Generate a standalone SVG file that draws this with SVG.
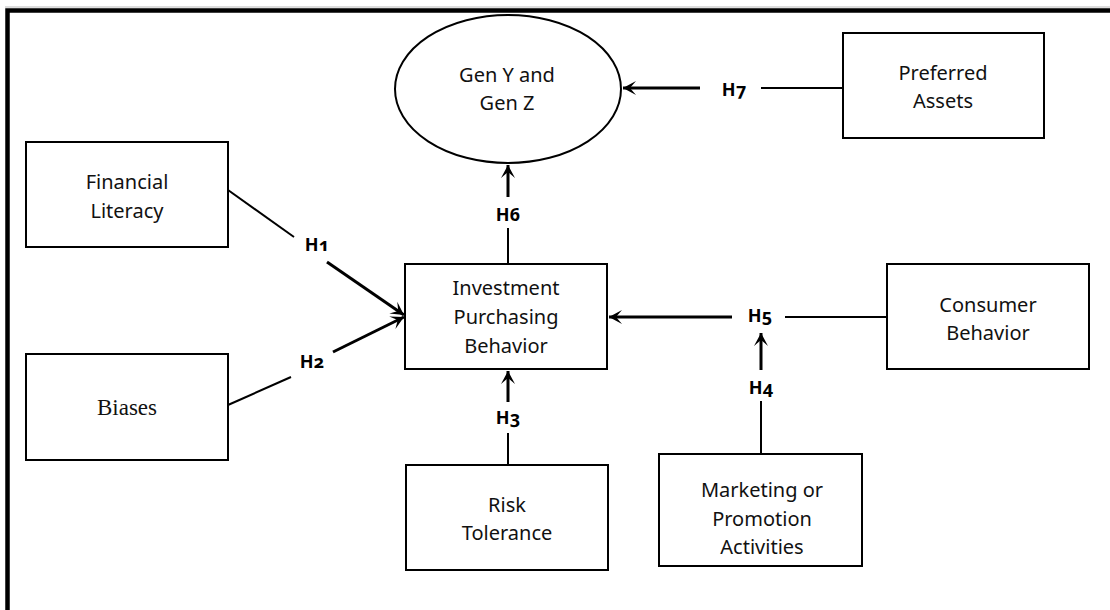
<svg xmlns="http://www.w3.org/2000/svg" width="1110" height="610" viewBox="0 0 1110 610">
<style>
.box{fill:#fff;stroke:#000;stroke-width:2}
.t{font-family:"Noto Sans","Open Sans",sans-serif;font-size:20px;fill:#111;text-anchor:middle}
.ts{font-family:"Liberation Serif","Times New Roman",serif;font-size:23px;fill:#111;text-anchor:middle}
.lbl{font-family:"Noto Sans","Open Sans",sans-serif;font-size:18px;font-weight:bold;fill:#000;text-anchor:middle;font-variant-numeric:oldstyle-nums}
.ln{stroke:#000;stroke-width:2;fill:none}
.ar{stroke:#000;stroke-width:3;fill:none;marker-end:url(#ah)}
</style>
<defs>
<marker id="ah" markerUnits="userSpaceOnUse" markerWidth="16" markerHeight="16" viewBox="-14 -8 16 16" refX="0" refY="0" orient="auto">
<path d="M0,0 L-13,-7 L-7,0 L-13,7 Z" fill="#000"/>
</marker>
</defs>
<rect width="1110" height="610" fill="#fff"/>
<line x1="5" y1="7" x2="1110" y2="7" stroke="#bbb" stroke-width="1"/>
<path d="M7.5,610 L7.5,10.5 L1110,10.5" fill="none" stroke="#000" stroke-width="4.5"/>

<g id="connectors">
<line class="ln" x1="843" y1="88" x2="761" y2="88"/>
<line class="ar" x1="700" y1="88" x2="623" y2="88"/>
<line class="ln" x1="508" y1="264" x2="508" y2="228"/>
<line class="ar" x1="508" y1="197" x2="508" y2="165"/>
<line class="ln" x1="228" y1="190" x2="294" y2="237"/>
<line class="ar" x1="327" y1="262" x2="404" y2="315"/>
<line class="ln" x1="228" y1="405" x2="291" y2="377"/>
<line class="ar" x1="333" y1="352" x2="404" y2="317"/>
<line class="ln" x1="508" y1="466" x2="508" y2="433"/>
<line class="ar" x1="508" y1="402" x2="508" y2="371"/>
<line class="ln" x1="761" y1="454" x2="761" y2="401"/>
<line class="ar" x1="761" y1="370" x2="761" y2="333"/>
<line class="ln" x1="887" y1="317" x2="785" y2="317"/>
<line class="ar" x1="732" y1="317" x2="609" y2="317"/>
<text class="lbl" x="317" y="251">H1</text>
<text class="lbl" x="312" y="368">H2</text>
<text class="lbl" x="508" y="424">H3</text>
<text class="lbl" x="761" y="394">H4</text>
<text class="lbl" x="760" y="322">H5</text>
<text class="lbl" x="508" y="221">H6</text>
<text class="lbl" x="734" y="96">H7</text>
</g>

<g id="gen">
<ellipse cx="508" cy="89" rx="113" ry="74" fill="#fff" stroke="#000" stroke-width="2"/>
<text class="t" x="507" y="82">Gen Y and</text>
<text class="t" x="507" y="110">Gen Z</text>
</g>
<g id="preferred">
<rect class="box" x="843" y="33" width="201" height="105"/>
<text class="t" x="943" y="80">Preferred</text>
<text class="t" x="943" y="108">Assets</text>
</g>
<g id="financial">
<rect class="box" x="26" y="142" width="202" height="105"/>
<text class="t" x="127" y="189">Financial</text>
<text class="t" x="127" y="218">Literacy</text>
</g>
<g id="biases">
<rect class="box" x="26" y="354" width="202" height="106"/>
<text class="ts" x="127" y="415">Biases</text>
</g>
<g id="ipb">
<rect class="box" x="405" y="264" width="202" height="105"/>
<text class="t" x="506" y="295">Investment</text>
<text class="t" x="506" y="324">Purchasing</text>
<text class="t" x="506" y="353">Behavior</text>
</g>
<g id="risk">
<rect class="box" x="406" y="465" width="202" height="105"/>
<text class="t" x="507" y="512">Risk</text>
<text class="t" x="507" y="540">Tolerance</text>
</g>
<g id="marketing">
<rect class="box" x="659" y="454" width="203" height="112"/>
<text class="t" x="762" y="497">Marketing or</text>
<text class="t" x="762" y="526">Promotion</text>
<text class="t" x="762" y="554">Activities</text>
</g>
<g id="consumer">
<rect class="box" x="887" y="264" width="202" height="105"/>
<text class="t" x="988" y="312">Consumer</text>
<text class="t" x="988" y="340">Behavior</text>
</g>
</svg>
